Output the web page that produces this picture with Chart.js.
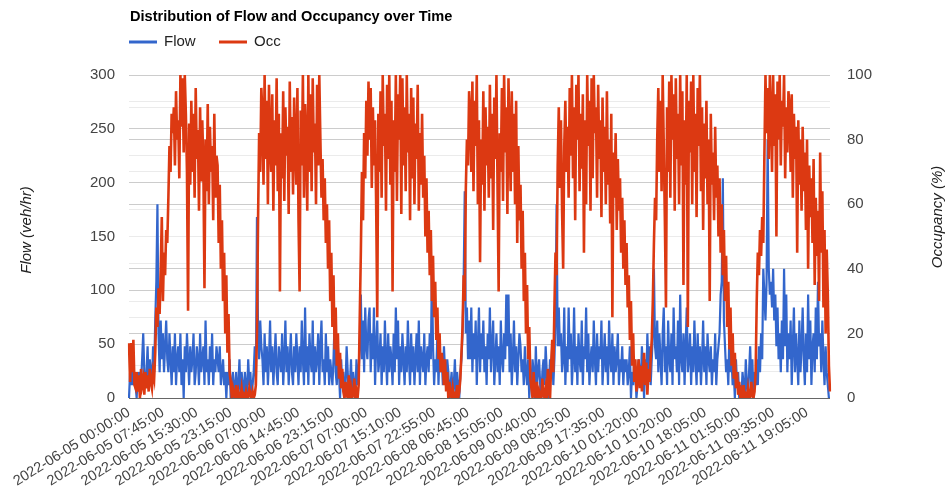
<!DOCTYPE html>
<html>
<head>
<meta charset="utf-8">
<script src="https://cdn.jsdelivr.net/npm/chart.js@4.4.1/dist/chart.umd.min.js"></script>
<style>
  html, body { margin: 0; padding: 0; background: #fff; }
  #wrap { width: 948px; height: 491px; position: relative; }
</style>
</head>
<body>
<div id="wrap"><canvas id="flowChart"></canvas></div>
<script>
// Chart text
const chartTitle = 'Distribution of Flow and Occupancy over Time';
const seriesNames = ['Flow', 'Occ'];
const axisTitles = ['Flow (veh/hr)', 'Occupancy (%)'];

// Shown x labels (one every 31 samples below)
const tickLabels = [
  '2022-06-05 00:00:00', '2022-06-05 07:45:00', '2022-06-05 15:30:00', '2022-06-05 23:15:00',
  '2022-06-06 07:00:00', '2022-06-06 14:45:00', '2022-06-06 23:15:00', '2022-06-07 07:00:00',
  '2022-06-07 15:10:00', '2022-06-07 22:55:00', '2022-06-08 06:45:00', '2022-06-08 15:05:00',
  '2022-06-09 00:40:00', '2022-06-09 08:25:00', '2022-06-09 17:35:00', '2022-06-10 01:20:00',
  '2022-06-10 10:20:00', '2022-06-10 18:05:00', '2022-06-11 01:50:00', '2022-06-11 09:35:00',
  '2022-06-11 19:05:00'
];
const tickEvery = 31;

// Flow (veh/hr)
const flow = [
  0, 24, 12, 24, 12, 24, 12, 0, 24, 12, 24, 12, 36, 60, 24, 12, 24, 48, 12, 36, 24, 12, 48, 24,
  72, 108, 180, 60, 24, 72, 36, 60, 24, 48, 72, 36,
  24, 60, 36, 12, 48, 24, 60, 12, 36, 48, 24, 60, 12, 36, 0, 48, 24, 60, 36, 12,
  48, 24, 36, 60, 12, 24, 48, 36, 12, 60, 24, 36, 48, 12, 72, 24, 36, 12, 48, 24, 60, 12, 36, 24, 48,
  36, 24, 48, 12, 24, 36, 12, 24, 0, 24, 12, 36, 0, 12, 24, 0, 12, 24, 0, 12,
  36, 0, 24, 12, 0, 24, 12, 0, 36, 12, 24, 0, 12, 24, 48, 12,
  168, 60, 36, 72, 48,
  36, 12, 60, 24, 48, 12, 36, 72, 24, 48, 12, 36, 60, 24, 12, 48, 36, 24, 60, 12,
  36, 72, 24, 48, 12, 36, 60, 24, 12, 48, 24, 60, 36, 12, 48, 24, 72, 36, 12, 84,
  24, 48, 12, 60, 36, 24, 72, 12, 48, 24, 36, 60, 12,
  48, 72, 24, 36, 12, 60, 24, 48, 12, 36, 24, 12, 36, 72, 24, 12, 48, 24, 0, 36, 12,
  24, 0, 12, 48, 24, 0, 12, 36, 0, 24, 12, 0, 36, 12, 24,
  48, 96, 36, 72, 24, 84, 48, 36, 72,
  84, 24, 60, 36, 84, 12, 48, 72, 24, 36, 60, 12, 48, 24, 72, 36, 12, 60, 24, 48,
  36, 12, 60, 24, 84, 36, 72, 12, 48, 24, 60, 36, 12, 48, 24, 72, 36, 12, 60, 24,
  48, 12, 36, 60, 24, 72, 12, 48, 36,
  24, 60, 12, 36, 48, 24, 60, 36, 120, 48, 12, 36, 24, 60, 12, 48, 24, 36, 12, 48,
  24, 12, 36, 24, 0, 12, 24, 0, 12, 36, 0, 24, 12, 0, 24, 36, 60,
  108, 192, 60, 84, 36, 72,
  36, 84, 24, 60, 36, 72, 12, 48, 84, 24, 60, 36, 72, 24, 48, 12, 60, 36, 84, 24,
  48, 72, 12, 36, 60, 24, 48, 12, 72, 36, 24, 60, 36, 96, 48, 96, 24, 60, 12, 36,
  72, 24, 48, 12, 36, 60,
  48, 24, 36, 12, 48, 24, 12, 36, 0, 24, 12, 36, 24, 0, 48, 12, 24, 36, 12, 0,
  24, 36, 12, 48, 24, 0, 12, 36, 24, 48, 12, 36,
  72, 180, 48, 84,
  48, 60, 24, 36, 84, 12, 48, 24, 84, 36, 60, 12, 36, 84, 24, 48, 12, 60, 36, 24,
  72, 12, 48, 36, 84, 24, 60, 12, 36, 48, 24, 72, 36, 12, 60, 24, 48, 36, 72, 12,
  36, 60, 24, 48, 12, 72, 36, 24, 60, 12, 48, 24, 36, 60, 12, 36, 24, 48, 12, 36, 24,
  36, 12, 24, 48, 0, 24, 12, 36, 24, 0, 12, 36, 24, 12, 48, 24, 0, 36, 12, 60, 24, 48, 12, 36,
  60, 120, 48, 36, 72, 24, 60,
  36, 12, 60, 84, 24, 48, 12, 72, 36, 24, 60, 12, 84, 36, 48, 24, 72, 12, 96, 36,
  24, 60, 12, 48, 84, 24, 36, 60, 12, 48, 24, 72, 36, 12, 60, 24, 48, 12, 36, 72,
  24, 48, 12, 60, 36, 24, 48, 12, 36, 24, 60, 12, 36, 48,
  60, 96, 108, 204, 72, 48, 24, 36, 12, 60, 24, 36, 12, 24, 0, 36, 12, 24, 0,
  12, 0, 24, 12, 0, 36, 12, 0, 24, 48, 12, 36, 0, 24, 12,
  36, 12, 48, 24, 60, 36, 120, 96,
  72, 108, 240, 120, 96, 108, 84, 120, 72, 96, 48, 84, 36, 60, 24, 72, 36, 120, 48, 96, 24, 60,
  36, 72, 12, 48, 84, 24, 60, 36, 12, 72, 24, 48, 84, 36, 12, 60, 24, 96, 36, 72,
  12, 48, 60, 24, 84, 36, 108, 48,
  60, 24, 72, 36, 12, 48, 24, 12, 0, 0
];

// Occupancy (%)
const occ = [
  17, 5, 17, 8, 18, 4,
  3, 8, 2, 7, 0, 9, 4, 6, 1, 8, 3, 7, 2, 9, 5, 3, 8, 6,
  14, 28, 22, 34, 26, 40, 56, 30, 45, 38, 52, 48,
  62, 78, 70, 88, 82,
  90, 72, 95, 80, 86, 68, 100, 84, 99, 76, 100, 88, 70,
  27, 85, 66, 92, 70, 88, 62, 96, 74, 83, 58, 90, 67, 86, 72, 34, 80, 64, 91, 60,
  84, 70, 78, 55, 88, 62, 75,
  72, 48, 66, 40, 55, 30, 45, 20, 38, 14, 26, 8,
  5, 0, 3, 1, 0, 4, 0, 2, 0, 0, 3, 0, 1, 0, 2, 0, 0, 3, 1, 0, 2, 0, 1, 4,
  20, 55, 82, 70, 96,
  88, 66, 100, 74, 92, 60, 97, 80, 70, 94, 58, 86, 72, 99, 64, 88, 33, 82, 68, 95,
  61, 90, 75, 84, 57, 98, 70, 87, 63, 93, 78, 66, 96, 55, 33, 89, 72, 100, 62, 91,
  80, 58, 100, 70, 94, 64, 99, 76, 85, 60, 97, 72, 100,
  80, 62, 74, 55, 68, 48, 60, 40, 55,
  30, 45, 22, 38, 15, 28, 10, 20, 6, 14, 3, 9,
  2, 0, 5, 1, 0, 7, 0, 3, 0, 1, 6, 0, 2, 0, 4,
  25, 45, 70, 55, 82, 68, 92, 75, 98,
  80, 96, 65, 90, 72, 86, 60, 25, 88, 70, 95, 62, 100, 78, 88, 58, 97, 74, 100, 66,
  92, 33, 86, 70, 100, 61, 94, 80, 100, 57, 99, 72, 90, 64, 100, 76, 88, 55, 96, 68,
  93, 60, 85, 74, 97, 58, 82, 66, 88,
  62, 75, 50, 68, 45, 58, 38, 52, 30, 44, 25, 36, 18, 28, 12, 20, 8, 14,
  10, 4, 12, 2, 8, 0, 5, 1, 0, 3, 0, 1, 0, 4, 0, 2, 6, 14, 22,
  38, 30, 65, 80, 72, 95,
  88, 70, 98, 64, 92, 78, 100, 60, 86, 42, 80, 66, 95, 58, 90, 72, 84, 62, 97, 68,
  88, 52, 93, 74, 100, 65, 33, 82, 70, 96, 61, 100, 76, 90, 57, 99, 80, 64, 95, 70,
  88, 60, 92, 48, 78, 55,
  66, 40, 58, 30, 45, 20, 35, 12, 22, 6,
  3, 0, 8, 1, 0, 5, 0, 2, 0, 0, 6, 1, 0, 3, 0, 9, 2, 0, 10, 18, 8, 28,
  45, 38, 72, 90,
  65, 86, 58, 40, 78, 92, 70, 84, 62, 96, 75, 100, 68, 90, 55, 97, 80, 100, 64, 88,
  71, 94, 45, 86, 60, 100, 78, 92, 58, 99, 68, 100, 82, 90, 62, 97, 74, 86, 56, 93,
  70, 84, 60, 95, 66, 80, 54, 88, 25, 76, 62, 82, 52, 74, 58, 68, 45, 62, 40, 55, 35,
  48, 28, 38, 18, 30, 10, 20, 5, 12, 2,
  6, 12, 3, 10, 2, 8, 14, 4, 11, 1, 9, 5, 12, 18,
  30, 48, 62, 55, 80, 96, 70,
  92, 64, 100, 78, 55, 28, 90, 70, 98, 62, 100, 80, 94, 58, 99, 74, 88, 60, 100, 72,
  95, 35, 86, 66, 100, 22, 92, 76, 98, 60, 100, 70, 88, 56, 96, 78, 100, 64, 90, 52,
  85, 68, 92, 60, 80, 30, 88, 66, 76, 55, 84, 62, 72, 50,
  68, 45, 60, 38, 52, 30, 44, 22, 36, 15, 28, 10, 20, 6, 14, 3, 8, 1, 5,
  0, 2, 0, 4, 0, 1, 0, 3, 0, 0, 5, 1, 0, 2, 8,
  30, 45, 38, 52, 44, 56, 48, 75,
  100, 82, 96, 74, 100, 88, 70, 100, 78, 94, 50, 98, 80, 100, 72, 92, 84, 100, 68, 90, 76, 95,
  90, 70, 94, 62, 88, 74, 84, 45, 86, 66, 80, 58, 84, 64, 76, 52, 80, 40, 72, 56,
  68, 48, 74, 35, 62, 44, 58, 30,
  76, 45, 64, 28, 52, 20, 46, 32, 10, 2
];

const labels = occ.map((_, i) => (i % tickEvery === 0 && tickLabels[i / tickEvery]) ? tickLabels[i / tickEvery] : '');

const FONT = '"Liberation Sans", Arial, sans-serif';

// Title, legend and axis titles drawn in Google Charts positions
const headerPlugin = {
  id: 'header',
  afterDraw(chart) {
    const ctx = chart.ctx;
    ctx.save();
    ctx.textBaseline = 'middle';
    ctx.fillStyle = '#000';
    ctx.font = 'bold 14.6px ' + FONT;
    ctx.fillText(chartTitle, 130, 17);

    const colors = chart.data.datasets.map(d => d.borderColor);
    const legendX = [129, 219];
    ctx.font = '15px ' + FONT;
    seriesNames.forEach((name, i) => {
      ctx.strokeStyle = colors[i];
      ctx.lineWidth = 3;
      ctx.beginPath();
      ctx.moveTo(legendX[i], 42);
      ctx.lineTo(legendX[i] + 28, 42);
      ctx.stroke();
      ctx.fillStyle = '#222';
      ctx.fillText(name, legendX[i] + 35, 42);
    });

    ctx.font = 'italic 15px ' + FONT;
    ctx.fillStyle = '#222';
    ctx.textAlign = 'center';
    [[27, 230, axisTitles[0]], [938, 217, axisTitles[1]]].forEach(([x, y, t]) => {
      ctx.save();
      ctx.translate(x, y);
      ctx.rotate(-Math.PI / 2);
      ctx.fillText(t, 0, 0);
      ctx.restore();
    });
    ctx.restore();
  }
};

new Chart(document.getElementById('flowChart'), {
  type: 'line',
  data: {
    labels: labels,
    datasets: [
      {
        label: seriesNames[0],
        data: flow,
        borderColor: '#3366cc',
        backgroundColor: '#3366cc',
        borderWidth: 2.2,
        pointRadius: 0,
        tension: 0,
        yAxisID: 'y',
        order: 1
      },
      {
        label: seriesNames[1],
        data: occ,
        borderColor: '#dc3912',
        backgroundColor: '#dc3912',
        borderWidth: 2.6,
        pointRadius: 0,
        tension: 0,
        yAxisID: 'y1',
        order: 0
      }
    ]
  },
  options: {
    responsive: true,
    maintainAspectRatio: false,
    animation: false,
    layout: { padding: { top: 75, left: 0, right: 0, bottom: 0 } },
    plugins: {
      legend: { display: false },
      title: { display: false },
      tooltip: { enabled: false }
    },
    scales: {
      x: {
        grid: { display: false, drawTicks: false },
        border: { display: false },
        ticks: {
          autoSkip: false,
          minRotation: 32,
          maxRotation: 32,
          padding: 6,
          color: '#444',
          font: { family: FONT, size: 14.5 }
        },
        afterFit(s) { s.height = 93; }
      },
      y: {
        position: 'left',
        min: 0,
        max: 300,
        border: { display: false },
        grid: {
          drawTicks: false,
          color: c => c.tick.value === 0 ? '#666' : (c.tick.value % 50 === 0 ? '#cccccc' : '#ebebeb')
        },
        ticks: {
          stepSize: 25,
          padding: 14,
          color: '#444',
          font: { family: FONT, size: 15 },
          callback: v => v % 50 === 0 ? v : ''
        },
        afterFit(s) { s.width = 129; }
      },
      y1: {
        position: 'right',
        min: 0,
        max: 100,
        border: { display: false },
        grid: {
          drawTicks: false,
          color: c => c.tick.value === 0 ? '#666' : (c.tick.value % 20 === 0 ? '#cccccc' : '#ebebeb')
        },
        ticks: {
          stepSize: 10,
          padding: 17,
          color: '#444',
          font: { family: FONT, size: 15 },
          callback: v => v % 20 === 0 ? v : ''
        },
        afterFit(s) { s.width = 118; }
      }
    }
  },
  plugins: [headerPlugin]
});
</script>
</body>
</html>
